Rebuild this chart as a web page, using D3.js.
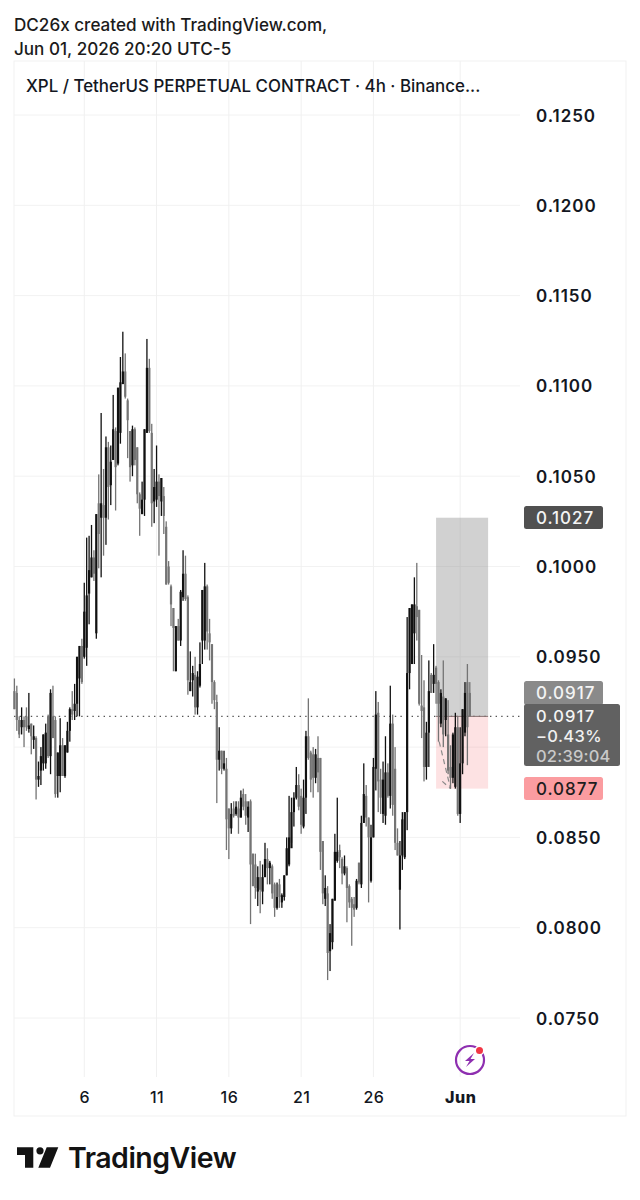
<!DOCTYPE html>
<html lang="en">
<head>
<meta charset="utf-8">
<script src="https://d3js.org/d3.v7.min.js"></script>
<style>
html, body { margin: 0; padding: 0; background: #fff; }
svg { display: block; }
text { font-family: Inter, "Noto Sans", sans-serif; }
</style>
</head>
<body>
<script>
// 4h candles, oldest first
var opens = [
.0931,.0930,.0915,.0911,.0915,.0917,.0910,.0913,.0904,.0905,
.0882,.0887,.0891,.0891,.0917,.0895,.0917,.0915,.0884,.0884,
.0901,.0884,.0897,.0909,.0921,.0920,.0924,.0938,.0956,.0950,
.0955,.0985,.0994,.1005,.0963,.1035,.1027,.1034,.1027,.1066,
.1045,.1059,.1075,.1057,.1074,.1101,.1108,.1092,.1075,.1056,
.1076,.1066,.1040,.1029,.1037,.1074,.1110,.1074,.1036,.1037,
.1047,.1036,.1039,.1022,.1000,.0989,.0977,.0942,.0967,.0959,
.0983,.0996,.0983,.0931,.0937,.0940,.0922,.0934,.0959,.0959,
.0989,.0963,.0957,.0936,.0925,.0893,.0898,.0888,.0888,.0866,
.0855,.0866,.0863,.0866,.0861,.0874,.0870,.0861,.0870,.0841,
.0835,.0820,.0828,.0820,.0828,.0838,.0833,.0834,.0824,.0811,
.0824,.0814,.0817,.0829,.0835,.0844,.0864,.0872,.0879,.0873,
.0856,.0872,.0906,.0897,.0896,.0883,.0894,.0894,.0848,.0816,
.0819,.0787,.0792,.0815,.0837,.0843,.0838,.0830,.0833,.0823,
.0816,.0813,.0811,.0836,.0824,.0858,.0873,.0861,.0826,.0850,
.0888,.0919,.0882,.0863,.0862,.0886,.0873,.0913,.0888,.0847,
.0821,.0840,.0839,.0864,.0941,.0946,.0963,.0978,.0976,.0923,
.0922,.0889,.0908,.0940,.0935,.0944,.0936,.0913,.0928,.0915,
.0907,.0889,.0883,.0878,.0911,.0863,.0891,.0908,.0936,.0930];
var highs = [
.0938,.0934,.0917,.0922,.0917,.0922,.0930,.0913,.0912,.0906,
.0892,.0900,.0907,.0913,.0918,.0932,.0934,.0917,.0897,.0916,
.0905,.0901,.0914,.0922,.0931,.0935,.0950,.0956,.0960,.0991,
.1016,.1017,.1023,.1009,.1029,.1051,.1085,.1054,.1072,.1069,
.1067,.1095,.1077,.1099,.1116,.1130,.1118,.1093,.1075,.1078,
.1077,.1066,.1041,.1047,.1076,.1126,.1115,.1079,.1054,.1067,
.1051,.1049,.1044,.1025,.1003,.0990,.0977,.0967,.0971,.0987,
.1009,.1006,.0984,.0953,.0945,.0950,.0942,.0958,.0987,.1002,
.0990,.0971,.0957,.0937,.0929,.0911,.0898,.0898,.0894,.0866,
.0869,.0870,.0870,.0870,.0876,.0877,.0874,.0870,.0871,.0841,
.0841,.0834,.0837,.0835,.0847,.0844,.0837,.0835,.0825,.0825,
.0827,.0819,.0829,.0850,.0873,.0872,.0875,.0889,.0885,.0877,
.0882,.0909,.0927,.0898,.0900,.0899,.0906,.0894,.0848,.0829,
.0823,.0802,.0816,.0852,.0872,.0846,.0839,.0840,.0834,.0824,
.0817,.0817,.0827,.0836,.0862,.0891,.0879,.0861,.0857,.0894,
.0931,.0925,.0888,.0892,.0906,.0891,.0934,.0918,.0900,.0855,
.0848,.0864,.0864,.0972,.0977,.0979,.0994,.1002,.0976,.0951,
.0937,.0914,.0948,.0941,.0957,.0945,.0937,.0932,.0948,.0927,
.0926,.0901,.0908,.0919,.0917,.0911,.0921,.0936,.0946,.0936];
var lows = [
.0921,.0909,.0905,.0907,.0900,.0909,.0908,.0896,.0899,.0871,
.0878,.0879,.0887,.0888,.0894,.0885,.0905,.0872,.0872,.0875,
.0884,.0883,.0897,.0903,.0915,.0915,.0917,.0917,.0935,.0949,
.0945,.0968,.0994,.0992,.0960,.0999,.0994,.1006,.1012,.1026,
.1034,.1059,.1031,.1056,.1068,.1101,.1093,.1060,.1047,.1050,
.1056,.1035,.1017,.1029,.1028,.1074,.1074,.1022,.1024,.1033,
.1006,.1028,.1018,.0990,.0990,.0967,.0942,.0942,.0959,.0956,
.0981,.0981,.0929,.0931,.0928,.0918,.0918,.0933,.0946,.0954,
.0954,.0948,.0924,.0921,.0869,.0887,.0885,.0887,.0843,.0838,
.0852,.0861,.0862,.0852,.0861,.0865,.0857,.0853,.0802,.0823,
.0816,.0812,.0808,.0813,.0828,.0824,.0824,.0816,.0806,.0810,
.0811,.0811,.0815,.0829,.0834,.0847,.0856,.0871,.0865,.0852,
.0855,.0863,.0893,.0875,.0872,.0880,.0875,.0832,.0813,.0812,
.0771,.0776,.0788,.0815,.0836,.0833,.0824,.0829,.0803,.0811,
.0790,.0806,.0810,.0824,.0822,.0858,.0856,.0814,.0825,.0850,
.0876,.0864,.0863,.0858,.0857,.0872,.0866,.0862,.0843,.0840,
.0799,.0832,.0838,.0854,.0932,.0946,.0946,.0959,.0923,.0905,
.0881,.0882,.0889,.0930,.0930,.0924,.0903,.0911,.0900,.0906,
.0885,.0877,.0880,.0877,.0862,.0858,.0885,.0906,.0890,.0917];
var closes = [
.0921,.0915,.0907,.0915,.0911,.0911,.0912,.0906,.0906,.0882,
.0884,.0895,.0907,.0908,.0895,.0930,.0905,.0874,.0897,.0901,
.0884,.0901,.0909,.0921,.0918,.0924,.0950,.0956,.0936,.0975,
.0984,.0998,.1005,.0996,.1029,.1018,.1035,.1027,.1066,.1044,
.1058,.1076,.1055,.1099,.1102,.1108,.1094,.1081,.1055,.1076,
.1059,.1040,.1032,.1037,.1076,.1110,.1075,.1035,.1044,.1047,
.1039,.1049,.1028,.0990,.0991,.0979,.0966,.0967,.0959,.0986,
.0996,.0982,.0937,.0936,.0941,.0922,.0939,.0946,.0987,.0989,
.0964,.0958,.0936,.0926,.0893,.0898,.0888,.0891,.0860,.0855,
.0863,.0862,.0867,.0861,.0872,.0867,.0862,.0867,.0835,.0823,
.0822,.0828,.0821,.0828,.0838,.0833,.0836,.0819,.0811,.0817,
.0817,.0818,.0829,.0844,.0850,.0864,.0872,.0879,.0867,.0857,
.0872,.0906,.0894,.0882,.0883,.0896,.0886,.0842,.0819,.0822,
.0786,.0797,.0816,.0842,.0842,.0839,.0830,.0834,.0822,.0814,
.0811,.0810,.0826,.0825,.0858,.0874,.0861,.0850,.0850,.0889,
.0918,.0881,.0872,.0882,.0886,.0873,.0913,.0868,.0847,.0840,
.0840,.0860,.0864,.0941,.0977,.0979,.0979,.0972,.0924,.0920,
.0889,.0908,.0931,.0930,.0940,.0935,.0924,.0930,.0907,.0927,
.0887,.0883,.0907,.0911,.0863,.0891,.0921,.0930,.0911,.0917];

var priceTicks = [.125,.12,.115,.11,.105,.1,.095,.09,.085,.08,.075];
var priceLabels = [.125,.12,.115,.11,.105,.1,.095,.085,.08,.075];  // .09 sits behind the countdown label
var dateTickIdx = [29,59,89,119,149,185];
var dateTickLabels = ["6","11","16","21","26","Jun"];
var lastPrice = .0917, targetPrice = .1027, stopPrice = .0877;
var boxStart = 175, boxEnd = 196.6;   // position tool, in candle numbers
var dashA = [[176.3,.0903],[181,.0877]], dashB = [[177.6,.0881],[181,.0877]];

var width = 640, height = 1200;
var svg = d3.select("body").append("svg").attr("width", width).attr("height", height);

var x = d3.scaleLinear().domain([0,189]).range([14.4,469.8]);
var y = d3.scaleLinear().domain([.075,.125]).range([1018,115]);
var paneR = 520;

// outer frame
svg.append("rect").attr("x",14).attr("y",61).attr("width",612).attr("height",1055)
   .attr("fill","none").attr("stroke","#f1f1f1");

// grid
svg.append("g").selectAll("line").data(priceTicks).join("line")
   .attr("x1",14).attr("x2",paneR).attr("y1",y).attr("y2",y)
   .attr("stroke","#f2f2f2");
svg.append("g").selectAll("line").data(dateTickIdx).join("line")
   .attr("x1",x).attr("x2",x).attr("y1",61).attr("y2",1077)
   .attr("stroke","#f0f0f0");

// position tool
svg.append("rect").attr("x",x(boxStart)).attr("width",x(boxEnd)-x(boxStart))
   .attr("y",y(targetPrice)).attr("height",y(lastPrice)-y(targetPrice))
   .attr("fill","#8c8c8c").attr("fill-opacity",.4);
svg.append("rect").attr("x",x(boxStart)).attr("width",x(boxEnd)-x(boxStart))
   .attr("y",y(lastPrice)).attr("height",y(stopPrice)-y(lastPrice))
   .attr("fill","#f77c80").attr("fill-opacity",.22);

// last price line
svg.append("line").attr("x1",14).attr("x2",paneR).attr("y1",y(lastPrice)).attr("y2",y(lastPrice))
   .attr("stroke","#555").attr("stroke-width",1.4).attr("stroke-dasharray","1.4 4.2");
svg.append("line").attr("x1",x(boxStart)).attr("x2",x(boxEnd)).attr("y1",y(lastPrice)).attr("y2",y(lastPrice))
   .attr("stroke","#8a7272").attr("stroke-width",1);

// dashed projection inside the box
var dashLine = d3.line().x(function(d){ return x(d[0]); }).y(function(d){ return y(d[1]); });
[dashA,dashB].forEach(function(d){
  svg.append("path").attr("d",dashLine(d)).attr("fill","none")
     .attr("stroke","#8a8a8a").attr("stroke-width",1.2).attr("stroke-dasharray","5 4");
});

// candles
var candles = svg.append("g").selectAll("g").data(d3.range(opens.length)).join("g")
   .attr("fill",function(i){ return closes[i] >= opens[i] ? "#111" : "#747474"; });
candles.append("rect").attr("x",function(i){ return x(i)-.65; }).attr("width",1.3)
   .attr("y",function(i){ return y(highs[i]); })
   .attr("height",function(i){ return y(lows[i])-y(highs[i]); });
candles.append("rect").attr("x",function(i){ return x(i)-1.1; }).attr("width",2.2)
   .attr("y",function(i){ return y(Math.max(opens[i],closes[i])); })
   .attr("height",function(i){ return Math.max(1,Math.abs(y(opens[i])-y(closes[i]))); });

// price axis
var yAxis = svg.append("g").attr("transform","translate("+paneR+",0.6)")
   .call(d3.axisRight(y).tickValues(priceLabels).tickSize(0).tickPadding(16).tickFormat(d3.format(".4f")));
yAxis.select(".domain").remove();
yAxis.selectAll("text").attr("font-size",17).attr("font-weight",600)
   .attr("font-family","Inter").attr("letter-spacing",.95).attr("fill","#131722");

// date axis
var xAxis = svg.append("g").attr("transform","translate(0,1077)")
   .call(d3.axisBottom(x).tickValues(dateTickIdx).tickSize(0).tickPadding(15)
   .tickFormat(function(d,i){ return dateTickLabels[i]; }));
xAxis.select(".domain").remove();
xAxis.selectAll("text").attr("font-size",16).attr("font-weight",function(d,i){ return i==5 ? 800 : 500; })
   .attr("font-family","Inter").attr("letter-spacing",.5).attr("fill","#131722");

// price labels on the scale
function pill(top,w,h,fill){
  svg.append("rect").attr("x",524).attr("y",top).attr("width",w).attr("height",h).attr("rx",2.5).attr("fill",fill);
}
function pillText(s,base,col,size,gap){
  svg.append("text").attr("x",536).attr("y",base).attr("font-size",size || 17).attr("font-weight",500)
     .attr("letter-spacing",gap === undefined ? .95 : gap).attr("fill",col).text(s);
}
pill(506,79,23,"#505050");
pillText(d3.format(".4f")(targetPrice),524,"#f4f4f4");
pill(681,79,24,"#8a8a8a");
pillText(d3.format(".4f")(lastPrice),699,"#f4f4f4");
pill(704,96,62,"#616161");
pillText(d3.format(".4f")(lastPrice),722,"#f4f4f4",16.5,1.2);
pillText("\u22120.43%",742,"#f0f0f0",16.5,.35);
pillText("02:39:04",762,"#c9c9c9",16.5,.2);
pill(777,79,23,"#fb9ca0");
pillText(d3.format(".4f")(stopPrice),795,"#1d1d1d");

// header
svg.append("text").attr("x",14).attr("y",31).attr("font-size",17.1).attr("font-weight",500)
   .attr("fill","#1b1b1b").text("DC26x created with TradingView.com,");
svg.append("text").attr("x",14).attr("y",55).attr("font-size",17.1).attr("font-weight",500)
   .attr("fill","#1b1b1b").text("Jun 01, 2026 20:20 UTC-5");
svg.append("text").attr("x",26).attr("y",92).attr("font-size",16.9).attr("font-weight",500)
   .attr("fill","#131722").text("XPL / TetherUS PERPETUAL CONTRACT \u00b7 4h \u00b7 Binance...");

// bolt icon
var icon = svg.append("g");
icon.append("circle").attr("cx",470).attr("cy",1060).attr("r",14).attr("fill","none")
   .attr("stroke","#8e2fb0").attr("stroke-width",2.2);
icon.append("path").attr("d","M474 1053 L465 1061 L469.5 1061 L466 1067 L475 1059 L470.5 1059 Z").attr("fill","#8e2fb0");
icon.append("circle").attr("cx",479.5).attr("cy",1050.5).attr("r",5).attr("fill","#fff");
icon.append("circle").attr("cx",479.5).attr("cy",1050.5).attr("r",3.5).attr("fill","#f23645");

// footer logo
svg.append("path").attr("fill","#131313")
   .attr("d","M17 1147.3 H33.3 V1167.7 H25 V1155 H17 Z M46.7 1147.3 H58.3 L50 1167.7 H38.3 Z");
svg.append("circle").attr("cx",40).attr("cy",1150.8).attr("r",3.6).attr("fill","#131313");
svg.append("text").attr("x",68).attr("y",1168).attr("font-size",28.5).attr("font-weight",600)
   .attr("letter-spacing",-.5).attr("fill","#131313").text("TradingView");
</script>
</body>
</html>
